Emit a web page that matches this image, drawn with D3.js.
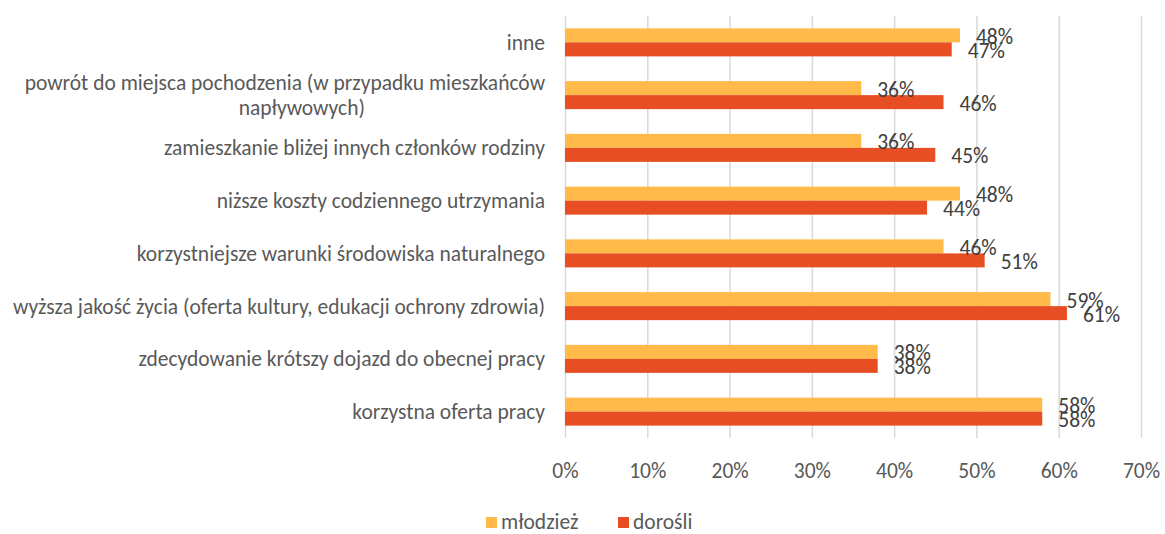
<!DOCTYPE html>
<html>
<head>
<meta charset="utf-8">
<script src="https://cdn.jsdelivr.net/npm/d3@7"></script>
<style>
  body { margin: 0; background: #fff; }
  svg { display: block; font-family: Carlito, Lato, sans-serif; }
</style>
</head>
<body>
<svg width="1165" height="534"></svg>
<script>
/* ---------------- data ---------------- */
var categories = [
  'inne',
  'powrót do miejsca pochodzenia (w przypadku mieszkańców|napływowych)',
  'zamieszkanie bliżej innych członków rodziny',
  'niższe koszty codziennego utrzymania',
  'korzystniejsze warunki środowiska naturalnego',
  'wyższa jakość życia (oferta kultury, edukacji ochrony zdrowia)',
  'zdecydowanie krótszy dojazd do obecnej pracy',
  'korzystna oferta pracy'
];
var seriesNames = ['młodzież', 'dorośli'];
var mlodziez = [48, 36, 36, 48, 46, 59, 38, 58];
var dorosli  = [47, 46, 45, 44, 51, 61, 38, 58];
var xTicks = [0, 10, 20, 30, 40, 50, 60, 70];

var colors = ['#FFBA49', '#E84E23'];

/* ---------------- layout ---------------- */
var plot = { left: 565, right: 1141, top: 16, bottom: 438 };
var fontSize = 21.5;

var svg = d3.select('svg');

var x = d3.scaleLinear()
  .domain([0, 70])
  .range([plot.left, plot.right]);

var pad = 0.469;
var y = d3.scaleBand()
  .domain(categories)
  .range([plot.top, plot.bottom])
  .paddingInner(pad)
  .paddingOuter(pad / 2);

var ySub = d3.scaleBand()
  .domain(seriesNames)
  .range([0, y.bandwidth()]);

// gridlines + tick labels
var xAxis = d3.axisBottom(x)
  .tickValues(xTicks)
  .tickSize(-(plot.bottom - plot.top))
  .tickFormat(function (d) { return d + '%'; });

var gx = svg.append('g')
  .attr('transform', 'translate(0,' + plot.bottom + ')')
  .call(xAxis);
gx.select('.domain').remove();
gx.selectAll('line').attr('stroke', '#d9d9d9').attr('stroke-width', 1.5);
gx.selectAll('text')
  .attr('y', 32)
  .attr('dy', '0.35em')
  .attr('fill', '#595959')
  .style('font-size', fontSize + 'px')
  .style('font-family', 'Carlito, Lato, sans-serif');

// category labels
var cat = svg.append('g').selectAll('text')
  .data(categories)
  .join('text')
  .attr('fill', '#595959')
  .style('font-size', fontSize + 'px')
  .attr('text-anchor', 'end')
  .attr('x', plot.left - 20)
  .attr('y', function (d) { return y(d) + y.bandwidth() / 2; });

cat.each(function (d) {
  var lines = d.split('|');
  var t = d3.select(this);
  if (lines.length == 1) {
    t.append('tspan').attr('dy', '0.35em').text(lines[0]);
  } else {
    var first = t.append('tspan').attr('dy', '-0.22em').text(lines[0]);
    var w = first.node().getComputedTextLength();
    t.append('tspan')
      .attr('text-anchor', 'middle')
      .attr('x', plot.left - 20 - w / 2 + 17)
      .attr('dy', '1.14em')
      .text(lines[1]);
  }
});

// bars
var rows = categories.map(function (c, i) {
  return { cat: c, values: [mlodziez[i], dorosli[i]] };
});

var group = svg.append('g').selectAll('g')
  .data(rows)
  .join('g')
  .attr('transform', function (d) { return 'translate(0,' + y(d.cat) + ')'; });

group.selectAll('rect')
  .data(function (d) { return d.values.map(function (v, j) { return { name: seriesNames[j], v: v, j: j }; }); })
  .join('rect')
  .attr('x', x(0))
  .attr('y', function (d) { return ySub(d.name); })
  .attr('width', function (d) { return x(d.v) - x(0); })
  .attr('height', ySub.bandwidth())
  .attr('fill', function (d) { return colors[d.j]; });

// value labels
group.selectAll('text')
  .data(function (d) { return d.values.map(function (v, j) { return { name: seriesNames[j], v: v, j: j }; }); })
  .join('text')
  .attr('x', function (d) { return x(d.v) + 16; })
  .attr('y', function (d) { return ySub(d.name) + ySub.bandwidth() / 2 + 1; })
  .attr('dy', '0.35em')
  .attr('fill', '#404040')
  .style('font-size', fontSize + 'px')
  .text(function (d) { return d.v + '%'; });

// legend
var legend = svg.append('g').attr('transform', 'translate(0,521)');
var legendX = [486, 618];
seriesNames.forEach(function (name, j) {
  legend.append('rect')
    .attr('x', legendX[j]).attr('y', -4)
    .attr('width', 11).attr('height', 11)
    .attr('fill', colors[j]);
  legend.append('text')
    .attr('x', legendX[j] + 15).attr('y', 0)
    .attr('dy', '0.35em')
    .attr('fill', '#595959')
    .style('font-size', fontSize + 'px')
    .text(name);
});
</script>
</body>
</html>
